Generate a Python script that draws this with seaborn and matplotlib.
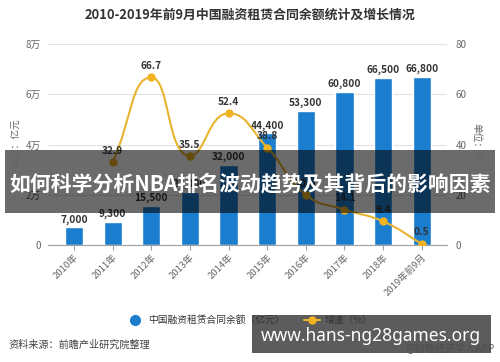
import numpy as np
import pandas as pd
import matplotlib
matplotlib.use("Agg")
import matplotlib.pyplot as plt
from matplotlib.path import Path
from matplotlib.patches import PathPatch, Rectangle
from matplotlib.lines import Line2D
import seaborn as sns

# ---------------- data ----------------
years = ["2010年", "2011年", "2012年", "2013年", "2014年", "2015年",
         "2016年", "2017年", "2018年", "2019年前9月"]
balance = [7000, 9300, 15500, 21000, 32000, 44400, 53300, 60800, 66500, 66800]
growth = [np.nan, 32.9, 66.7, 35.5, 52.4, 38.8, 20.0, 14.1, 9.4, 0.5]
left_ticks = [0, 20000, 40000, 60000, 80000]
left_tick_labels = ["0", "2万", "4万", "6万", "8万"]
right_ticks = [0, 20, 40, 60, 80]

title = "2010-2019年前9月中国融资租赁合同余额统计及增长情况"
banner_text = "如何科学分析NBA排名波动趋势及其背后的影响因素"
site_text = "www.hans-ng28games.org"
source_text = "资料来源：前瞻产业研究院整理"
brand_text = "@前瞻经济学人APP"
legend_bar = "中国融资租赁合同余额（亿元）"
legend_line = "增速（%）"

BAR_C = "#1B7DCE"
LINE_C = "#E8B32F"
MARK_C = "#F2B322"
TXT_C = "#333333"
TICK_C = "#666666"

sns.set_theme(style="white")
plt.rcParams["font.family"] = ["Noto Sans CJK SC", "DejaVu Sans"]

df = pd.DataFrame({"year": years, "balance": balance, "growth": growth,
                   "pos": np.arange(len(years))})

fig = plt.figure(figsize=(5, 3.62), dpi=100)
ax = fig.add_axes([0.096, 0.3232, 0.798, 0.5552])

sns.barplot(data=df, x="year", y="balance", color=BAR_C, width=0.47,
            saturation=1, ax=ax, zorder=2)
ax.set_ylim(0, 80000)
ax.set_xlim(-0.673, 9.655)
ax.set_yticks(left_ticks)
ax.set_yticklabels(left_tick_labels)
ax.set_xlabel("")
ax.set_ylabel("")
ax.grid(axis="y", color="#E3E3E3", linewidth=0.8, zorder=0)
ax.set_axisbelow(True)
for s in ["left", "right", "top"]:
    ax.spines[s].set_visible(False)
ax.spines["bottom"].set_color("#A0A0A0")
ax.spines["bottom"].set_linewidth(0.8)
ax.tick_params(axis="y", length=0, pad=5, labelsize=7, labelcolor=TICK_C)
ax.tick_params(axis="x", length=3.5, width=0.8, color="#A0A0A0", pad=2,
               labelsize=6.8, labelcolor=TICK_C, bottom=True)
for lab in ax.get_xticklabels():
    lab.set_rotation(45)
    lab.set_ha("right")
    lab.set_rotation_mode("anchor")

for c in ax.containers:
    ax.bar_label(c, labels=[f"{v:,}" for v in balance], padding=2,
                 fontsize=7.3, fontweight="bold", color=TXT_C)

# ---------------- growth line ----------------
ax2 = ax.twinx()
ax2.set_ylim(0, 80)
ax2.set_yticks(right_ticks)
ax2.set_xlim(ax.get_xlim())
for s in ax2.spines.values():
    s.set_visible(False)
ax2.tick_params(axis="y", length=0, pad=6, labelsize=7, labelcolor=TICK_C)
ax2.grid(False)

g = df.dropna(subset=["growth"])
px = g["pos"].to_numpy(dtype=float)
py = g["growth"].to_numpy(dtype=float)
# pixel scale for smoothing
sx, sy = 38.63, 201 / 80
n = len(px)
cps_prev, cps_next = [], []
smooth = 0.5
for i in range(n):
    p = np.array([px[i], py[i]])
    prv = np.array([px[i - 1], py[i - 1]]) if i > 0 else p
    nxt = np.array([px[i + 1], py[i + 1]]) if i < n - 1 else p
    v = (nxt - prv) * smooth
    if 0 < i < n - 1 and (p[1] - prv[1]) * (nxt[1] - p[1]) <= 0:
        v[1] = 0.0
    d0 = np.hypot((p[0] - prv[0]) * sx, (p[1] - prv[1]) * sy)
    d1 = np.hypot((nxt[0] - p[0]) * sx, (nxt[1] - p[1]) * sy)
    tot = d0 + d1 if d0 + d1 > 0 else 1
    cps_prev.append(p - v * d0 / tot)
    cps_next.append(p + v * d1 / tot)
verts = [(px[0], py[0])]
codes = [Path.MOVETO]
for i in range(n - 1):
    verts += [tuple(cps_next[i]), tuple(cps_prev[i + 1]), (px[i + 1], py[i + 1])]
    codes += [Path.CURVE4] * 3
ax2.add_patch(PathPatch(Path(verts, codes), facecolor="none",
                        edgecolor=LINE_C, linewidth=1.5, zorder=3))
sns.scatterplot(data=g, x="pos", y="growth", color=MARK_C, s=36,
                edgecolor=MARK_C, linewidth=0, ax=ax2, zorder=4, legend=False)
ax2.set_xlabel("")
ax2.set_ylabel("")
for x, y in zip(px, py):
    ax2.annotate(f"{y:g}" if y != 20.0 else "20.0", (x, y), xytext=(0, 4.5),
                 textcoords="offset points", ha="center", va="bottom",
                 fontsize=7.3, fontweight="bold", color=TXT_C, zorder=5)

# axis unit labels
fig.text(0.030, 0.605, "单位：亿元", rotation=90, ha="center", va="center",
         fontsize=7, color=TICK_C)
fig.text(0.952, 0.607, "单位：%", rotation=-90, ha="center", va="center",
         fontsize=7, color=TICK_C)

# title
fig.text(0.5, 0.958, title, ha="center", va="center", fontsize=9.3,
         fontweight="bold", color=TXT_C)

# legend
handles = [Line2D([0], [0], marker="o", linestyle="none", markersize=7,
                  markerfacecolor=BAR_C, markeredgecolor=BAR_C),
           Line2D([0], [0], marker="o", color=LINE_C, linewidth=1.5,
                  markersize=5, markerfacecolor=MARK_C, markeredgecolor=MARK_C)]
fig.legend(handles, [legend_bar, legend_line], loc="center",
           bbox_to_anchor=(0.5, 0.116), ncol=2, frameon=False, fontsize=7,
           handlelength=1.6, columnspacing=2.0, handletextpad=0.5,
           labelcolor=TXT_C)

# source / brand
fig.text(0.016, 0.047, source_text, ha="left", va="center", fontsize=7.3,
         color="#444444")
fig.text(0.99, 0.04, brand_text, ha="right", va="center", fontsize=7.3,
         color="#666666", zorder=0.5)

# overlay banner
fig.patches.append(Rectangle((0.01, 0.4116), 0.98, 0.174,
                             transform=fig.transFigure, facecolor="black",
                             alpha=0.58, edgecolor="none", zorder=1))
fig.text(0.5, 0.493, banner_text, ha="center", va="center", fontsize=15,
         fontweight="bold", color="white", zorder=3)

# bottom site banner
fig.patches.append(Rectangle((0.504, 0.0249), 0.478, 0.105,
                             transform=fig.transFigure, facecolor="#4a4a4a",
                             alpha=0.9, edgecolor="none", zorder=1))
fig.text(0.742, 0.072, site_text, ha="center", va="center", fontsize=12.5,
         fontweight="bold", color="white", zorder=3,
         family=["Noto Sans", "DejaVu Sans"])

fig.savefig("out.png", dpi=100)
